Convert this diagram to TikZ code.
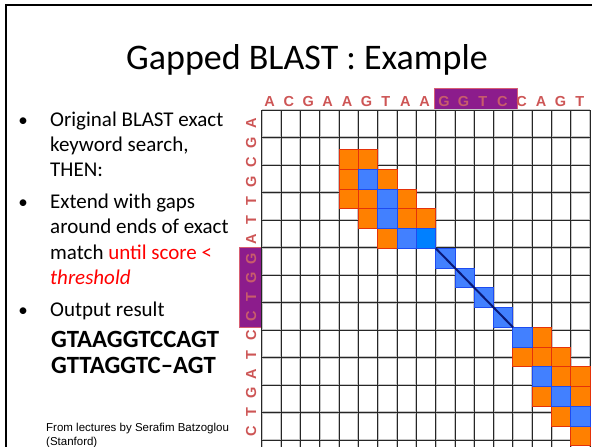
\documentclass[tikz,border=0pt]{standalone}
\usepackage{fontspec}
\setmainfont{Carlito}
\newfontfamily\arialfont{Liberation Sans}

\definecolor{lbl}{RGB}{205,85,85}
\definecolor{lblin}{RGB}{200,92,108}
\definecolor{purp}{RGB}{140,28,140}
\definecolor{purpedge}{RGB}{215,95,115}
\definecolor{orfill}{RGB}{255,128,0}
\definecolor{oredge}{RGB}{228,50,10}
\definecolor{blfill}{RGB}{66,128,255}
\definecolor{bledge}{RGB}{30,75,240}
\definecolor{brfill}{RGB}{0,128,255}
\definecolor{navyline}{RGB}{10,25,120}
\definecolor{txtred}{RGB}{255,0,0}

\tikzset{
  seqlbl/.style={font=\arialfont\bfseries\fontsize{14.5}{14.5}\selectfont, inner sep=0pt, anchor=base},
  bodytext/.style={font=\fontsize{21}{21}\selectfont, inner sep=0pt, anchor=base west},
  seqtext/.style={font=\bfseries\fontsize{24.8}{24.8}\selectfont, inner sep=0pt, anchor=base west},
  bulletmark/.style={font=\fontsize{19}{19}\selectfont, inner sep=0pt, anchor=base},
  purpbox/.style={fill=purp, draw=purpedge, line width=0.9pt},
  gridhalo/.style={draw=gray!45, line width=2.2pt},
  gridcore/.style={draw=black!85, line width=1pt},
  orcell/.style={fill=orfill, draw=oredge, line width=1pt},
  blcell/.style={fill=blfill, draw=bledge, line width=1pt},
  brcell/.style={fill=brfill, draw=bledge, line width=1pt},
}

\begin{document}
\begin{tikzpicture}[x=1pt, y=-1pt]
\useasboundingbox (0,0) rectangle (592,447);

% slide frame (top and left edges)
\coordinate (fbl) at (6.2,447);
\coordinate (ftl) at (6.2,5.3);
\coordinate (ftr) at (592,5.3);
\draw[line width=2.3pt] (fbl) -- (ftl) -- (ftr);

% title
\node[font=\fontsize{36}{36}\selectfont, inner sep=0pt, anchor=base] (title) at (307,69) {Gapped BLAST : Example};

% bullet list
\node[bulletmark] (b1) at (23,126) {•};
\node[bodytext] (l1) at (50,126) {Original BLAST exact};
\node[bodytext] (l2) at (50,151) {keyword search,};
\node[bodytext] (l3) at (50,176) {THEN:};
\node[bulletmark] (b2) at (23,208) {•};
\node[bodytext] (l4) at (50,208) {Extend with gaps};
\node[bodytext] (l5) at (50,233) {around ends of exact};
\node[bodytext] (l6) at (50,259) {match \textcolor{txtred}{until score <}};
\node[bodytext, text=txtred] (l7) at (50,284) {\itshape threshold};
\node[bulletmark] (b3) at (23,316) {•};
\node[bodytext] (l8) at (50,316) {Output result};
\node[seqtext] (s1) at (51,347) {GTAAGGTCCAGT};
\node[seqtext] (s2) at (51,373) {GTTAGGTC–AGT};

% credit
\node[font=\arialfont\fontsize{11.5}{14}\selectfont, inner sep=0pt, anchor=base west] (cr1) at (46,431) {From lectures by Serafim Batzoglou};
\node[font=\arialfont\fontsize{11.5}{14}\selectfont, inner sep=0pt, anchor=base west] (cr2) at (46,445) {(Stanford)};

% highlighted seeds in the sequence labels
\draw[purpbox] (434.3,88.3) rectangle (517.7,109.3);
\draw[purpbox] (239.3,247.3) rectangle (261,327.3);

% sequence along the top
\foreach \ch [count=\k from 0] in {A,C,G,A,A,G,T,A,A,G,G,T,C,C,A,G,T}{
  \pgfmathsetmacro{\xx}{269.5+19.4*\k}
  \ifnum\k>8 \ifnum\k<13 \def\lc{lblin}\else\def\lc{lbl}\fi\else\def\lc{lbl}\fi
  \node[seqlbl, text=\lc] (top\k) at (\xx,106) {\ch};
}

% sequence down the left side
\foreach \ch [count=\k from 0] in {A,G,C,G,T,T,A,G,G,T,C,C,T,A,G,T,C}{
  \pgfmathsetmacro{\yy}{287.3+(\k-8.5)*19.25}
  \ifnum\k>6 \ifnum\k<11 \def\lc{lblin}\else\def\lc{lbl}\fi\else\def\lc{lbl}\fi
  \node[seqlbl, text=\lc, rotate=90] (side\k) at (256.2,\yy) {\ch};
}

% dot-plot grid
\begin{scope}
\clip (230,100) rectangle (592,447);
\foreach \j in {0,...,17}{
  \pgfmathsetmacro{\gx}{261.7+19.33*\j}
  \draw[gridhalo] (\gx,110) -- (\gx,450);
}
\foreach \i in {0,...,12}{
  \pgfmathsetmacro{\gy}{110+27.5*\i}
  \draw[gridhalo] (261.7,\gy) -- (590.3,\gy);
}
\foreach \j in {0,...,17}{
  \pgfmathsetmacro{\gx}{261.7+19.33*\j}
  \draw[gridcore] (\gx,110) -- (\gx,450);
}
\foreach \i in {0,...,12}{
  \pgfmathsetmacro{\gy}{110+27.5*\i}
  \draw[gridcore] (261.7,\gy) -- (590.3,\gy);
}

% extension cells
\foreach \c/\r in {4/2,5/2,4/3,6/3,4/4,5/4,7/4,5/5,7/5,8/5,6/6,
                   14/11,13/12,14/12,15/12,15/13,16/13,14/14,16/14,15/15,16/16}{
  \pgfmathsetmacro{\cx}{261.7+19.33*\c}
  \pgfmathsetmacro{\cy}{110+19.76*\r}
  \draw[orcell] (\cx,\cy) rectangle ++(19.33,19.76);
}
\foreach \c/\r in {5/3,6/4,6/5,7/6,9/7,10/8,11/9,12/10,13/11,14/13,15/14,16/15}{
  \pgfmathsetmacro{\cx}{261.7+19.33*\c}
  \pgfmathsetmacro{\cy}{110+19.76*\r}
  \draw[blcell] (\cx,\cy) rectangle ++(19.33,19.76);
}
\draw[brcell] (416.3,228.6) rectangle ++(19.33,19.76);
\end{scope}

% exact seed match diagonal
\coordinate (d1) at (435.7,248.3);
\coordinate (d2) at (513.0,327.3);
\draw[navyline, line width=2pt] (d1) -- (d2);
\end{tikzpicture}
\end{document}
